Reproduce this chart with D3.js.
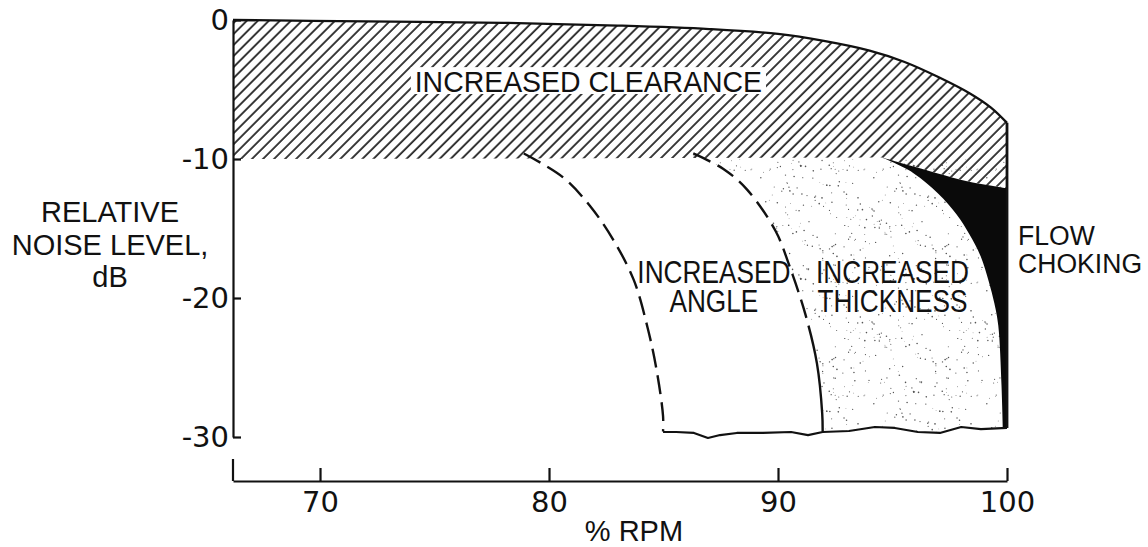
<!DOCTYPE html>
<html>
<head>
<meta charset="utf-8">
<script src="https://cdn.jsdelivr.net/npm/d3@7"></script>
<style>
  body { margin: 0; background: #fff; }
  svg { display: block; }
  text { fill: #111; }
</style>
</head>
<body>
<svg id="chart" width="1148" height="547"></svg>
<script>
'use strict';

// axis ticks
const xTicks = [70, 80, 90, 100];
const yTicks = [0, -10, -20, -30];

// upper boundary of the "increased clearance" band (% rpm, dB)
const topRpm = [66.2, 72, 78, 83, 87, 90, 92, 94, 95.5, 97, 98.4, 99.3, 100];
const topDb = [0, -0.1, -0.2, -0.4, -0.65, -1.0, -1.5, -2.2, -3.0, -4.1, -5.3, -6.3, -7.4];
const bandFloorDb = -10;

// dashed "increased angle" boundary
const angleRpm = [78.9, 80.6, 81.8, 82.8, 83.7, 84.3, 84.7, 84.98, 84.98];
const angleDb = [-9.6, -11.3, -13.4, -15.8, -18.7, -22.1, -25.2, -28.5, -29.6];

// "increased thickness" boundary
const thickRpm = [86.3, 87.6, 88.65, 89.9, 90.5, 91.2, 91.7, 91.93, 91.95];
const thickDb = [-9.6, -10.7, -12.2, -15.2, -17.7, -21.2, -24.7, -28.3, -29.6];

// flow choking region: left edge and top edge
const chokeRpm = [94.55, 95.9, 97.0, 97.8, 98.35, 98.85, 99.2, 99.45, 99.62, 99.76, 99.82];
const chokeDb = [-9.9, -11.0, -12.5, -14.0, -15.4, -17.0, -18.8, -20.4, -22.0, -26.3, -29.4];
const chokeTopRpm = [94.55, 95.6, 96.9, 98.4, 100];
const chokeTopDb = [-9.9, -10.4, -11.0, -11.65, -12.1];

// ragged floor under the regions
const floorRpm = [84.98, 85.55, 86.33, 86.94, 87.47, 88.2, 89.34, 90.57, 91.31, 91.95,
  93.1, 94.23, 95.1, 96.11, 97.07, 98.0, 98.86, 100];
const floorDb = [-29.64, -29.64, -29.71, -30.07, -29.86, -29.71, -29.71, -29.64, -29.86, -29.64,
  -29.57, -29.28, -29.35, -29.64, -29.71, -29.28, -29.43, -29.35];

// annotation labels (% rpm, dB of each baseline, horizontal squeeze)
const notes = [
  { lines: ['INCREASED CLEARANCE'], rpm: 81.72, db: [-5.18], anchor: 'middle', size: 29, sx: 0.98, boxed: true },
  { lines: ['INCREASED', 'ANGLE'], rpm: 87.2, db: [-18.92, -21.0], anchor: 'middle', size: 32, sx: 0.82 },
  { lines: ['INCREASED', 'THICKNESS'], rpm: 95.0, db: [-18.92, -21.0], anchor: 'middle', size: 32, sx: 0.82 },
  { lines: ['FLOW', 'CHOKING'], rpm: 100.48, db: [-16.19, -18.2], anchor: 'start', size: 28, sx: 0.95 },
  { lines: ['RELATIVE', 'NOISE LEVEL,', 'dB'], rpm: 60.83, db: [-14.53, -16.9, -19.2], anchor: 'middle', size: 29, sx: 1 },
];

const svg = d3.select('#chart');
const x = d3.scaleLinear().domain([66.2, 100]).range([233, 1007]);
const y = d3.scaleLinear().domain([0, -30]).range([20, 437]);
const xAxisY = 481;
const ink = '#111';
const sans = '"Liberation Sans", Arial, sans-serif';

const pts = (a, b) => d3.zip(a, b);
const smooth = d3.line().x((d) => x(d[0])).y((d) => y(d[1])).curve(d3.curveCatmullRom.alpha(0.5));
const cont = (p) => p.replace(/^M/, 'L'); // continue a path instead of moving
const at = (r, v) => `L${x(r)},${y(v)}`;

// patterns: diagonal hatching and stipple
const defs = svg.append('defs');
const hatch = defs.append('pattern')
  .attr('id', 'hatch')
  .attr('patternUnits', 'userSpaceOnUse')
  .attr('width', 7.8).attr('height', 7.8)
  .attr('patternTransform', 'rotate(45)');
hatch.append('line')
  .attr('x1', 2).attr('y1', 0).attr('x2', 2).attr('y2', 7.8)
  .attr('stroke', '#1a1a1a').attr('stroke-width', 1.7);

const tile = 113;
const stip = defs.append('pattern')
  .attr('id', 'stipple')
  .attr('patternUnits', 'userSpaceOnUse')
  .attr('width', tile).attr('height', tile);
let seed = 11;
const lcg = () => (seed = (seed * 16807) % 2147483647) / 2147483647;
for (let i = 0; i < 190; i++) {
  stip.append('circle')
    .attr('cx', lcg() * tile).attr('cy', lcg() * tile)
    .attr('r', 0.35 + lcg() * 0.5)
    .attr('fill', '#555');
}

// stippled "increased thickness" area
const floorPts = pts(floorRpm, floorDb);
const stipPath = smooth(pts(thickRpm, thickDb)) +
  floorPts.filter((d) => d[0] > thickRpm[thickRpm.length - 1]).map((d) => at(d[0], d[1])).join('') +
  at(100, bandFloorDb) + at(thickRpm[0], bandFloorDb) + 'Z';
svg.append('path').attr('d', stipPath).attr('fill', 'url(#stipple)');

// black flow choking area
const chokePts = pts(chokeRpm, chokeDb);
const blackPath = smooth(pts(chokeTopRpm, chokeTopDb)) +
  at(100, chokeDb[chokeDb.length - 1]) +
  cont(smooth(chokePts.slice().reverse())) + 'Z';
svg.append('path').attr('d', blackPath).attr('fill', '#0a0a0a');

// hatched clearance band
const topPts = pts(topRpm, topDb);
const hatchPath = smooth(topPts) +
  at(100, chokeTopDb[chokeTopDb.length - 1]) +
  cont(smooth(pts(chokeTopRpm, chokeTopDb).reverse())) +
  at(topRpm[0], bandFloorDb) + 'Z';
svg.append('path').attr('d', hatchPath).attr('fill', 'url(#hatch)');

// outlines
svg.append('path').attr('d', smooth(topPts))
  .attr('fill', 'none').attr('stroke', ink).attr('stroke-width', 2.3);
svg.append('line')
  .attr('x1', x(100)).attr('y1', y(topDb[topDb.length - 1]))
  .attr('x2', x(100)).attr('y2', y(floorDb[floorDb.length - 1]))
  .attr('stroke', ink).attr('stroke-width', 2.8);
svg.append('path').attr('d', d3.line().x((d) => x(d[0])).y((d) => y(d[1]))(floorPts))
  .attr('fill', 'none').attr('stroke', ink).attr('stroke-width', 2.2).attr('stroke-linejoin', 'round');

svg.append('path').attr('d', smooth(pts(angleRpm, angleDb)))
  .attr('fill', 'none').attr('stroke', ink).attr('stroke-width', 2.4)
  .attr('stroke-dasharray', '19 8');

// thickness edge: dashed above, solid lower part
const thick = svg.append('path').attr('d', smooth(pts(thickRpm, thickDb)))
  .attr('fill', 'none').attr('stroke', ink).attr('stroke-width', 2.4);
const len = thick.node().getTotalLength();
const dashes = [];
for (let s = 0; s < len * 0.66; s += 27) dashes.push(19, 8);
dashes.push(len);
thick.attr('stroke-dasharray', dashes.join(' '));

// labels, squeezed horizontally about their anchor; white box behind the band label
notes.forEach((n) => {
  const g = svg.append('g')
    .attr('transform', `translate(${x(n.rpm)},0) scale(${n.sx},1)`);
  const t = g.append('text')
    .attr('text-anchor', n.anchor)
    .attr('font-family', sans)
    .attr('font-size', n.size);
  n.lines.forEach((ln, i) => {
    t.append('tspan').attr('x', 0).attr('y', y(n.db[i])).text(ln);
  });
  if (n.boxed) {
    const b = t.node().getBBox();
    g.insert('rect', 'text')
      .attr('x', b.x - 4).attr('y', y(n.db[0]) - n.size * 0.72 - 4)
      .attr('width', b.width + 8).attr('height', n.size * 0.72 + 6)
      .attr('fill', '#fff');
  }
});

// axes
const yAxis = svg.append('g')
  .attr('transform', `translate(${x(66.2)},0)`)
  .call(d3.axisLeft(y).tickValues(yTicks).tickFormat((d) => String(d))
    .tickSizeInner(-8).tickSizeOuter(0).tickPadding(4));
const xAxis = svg.append('g')
  .attr('transform', `translate(0,${xAxisY})`)
  .call(d3.axisBottom(x).tickValues(xTicks).tickFormat((d) => String(d))
    .tickSizeInner(-13).tickSizeOuter(0).tickPadding(10));
[yAxis, xAxis].forEach((g) => {
  g.attr('font-family', '"DejaVu Sans", sans-serif').attr('font-size', 29);
  g.selectAll('path, line').attr('stroke', ink).attr('stroke-width', 2.2);
  g.selectAll('text').attr('fill', ink);
});
// short upright stub at the left end of the x axis
svg.append('line')
  .attr('x1', x(66.2)).attr('y1', xAxisY)
  .attr('x2', x(66.2)).attr('y2', xAxisY - 22)
  .attr('stroke', ink).attr('stroke-width', 2.2);

svg.append('text')
  .attr('x', x(83.71)).attr('y', xAxisY + 60)
  .attr('text-anchor', 'middle')
  .attr('font-family', sans).attr('font-size', 29)
  .text('% RPM');
</script>
</body>
</html>
